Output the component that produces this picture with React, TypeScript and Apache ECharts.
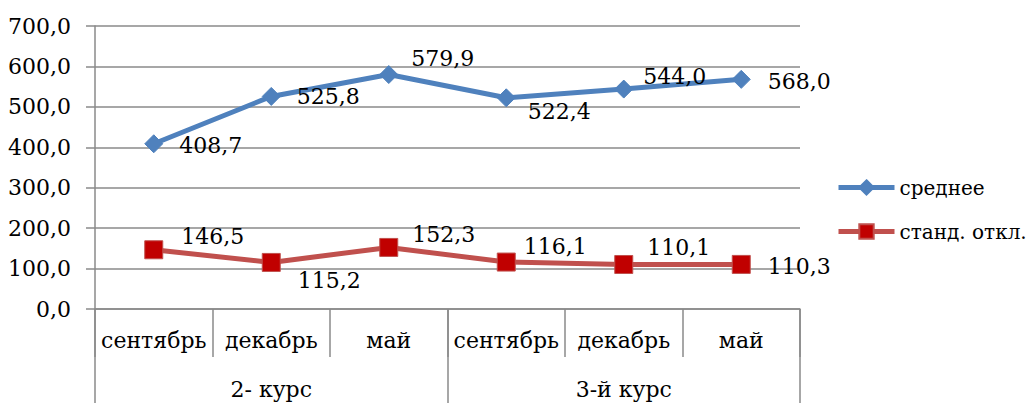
import React, { useEffect, useRef } from "react";
import * as echarts from "echarts";

const months = ["сентябрь", "декабрь", "май", "сентябрь", "декабрь", "май"];
const courses = ["2- курс", "3-й курс"];
const meanValues = [408.7, 525.8, 579.9, 522.4, 544.0, 568.0];
const sdValues = [146.5, 115.2, 152.3, 116.1, 110.1, 110.3];
const seriesNames = ["среднее", "станд. откл."];

// label offsets (layout only)
const meanLabelOffsets = [[16, 2], [16, 0], [13, -16], [12, 14], [10, -13], [17, 2]];
const sdLabelOffsets = [[18, -13], [17, 18], [14, -13], [8, -16], [14, -17], [17, 2]];

const FONT = "DejaVu Serif";
const FS = 22;
const fmt = (v: number) => v.toFixed(1).replace(".", ",");
const GRAY = "#8a8a8a";

export default function App() {
  const ref = useRef<HTMLDivElement>(null);
  useEffect(() => {
    if (!ref.current) return;
    const chart = echarts.init(ref.current, undefined, { renderer: "svg" });
    const mkData = (vals: number[], offs: number[][]) =>
      vals.map((v, i) => ({
        value: v,
        label: { offset: offs[i] },
      }));
    const txt = { fontFamily: FONT, fontSize: FS, color: "#000" };
    chart.setOption({
      animation: false,
      backgroundColor: "#ffffff",
      textStyle: { fontFamily: FONT },
      grid: { left: 95, right: 232, top: 26, bottom: 94, containLabel: false },
      legend: {
        orient: "vertical",
        left: 831,
        top: 170,
        itemWidth: 56,
        itemHeight: 18,
        itemGap: 19,
        data: seriesNames,
        lineStyle: { width: 5 },
        textStyle: { ...txt, fontSize: 20, lineHeight: 25 },
      },
      xAxis: [
        {
          type: "category",
          data: months,
          position: "bottom",
          boundaryGap: true,
          axisLine: { show: true, lineStyle: { color: GRAY, width: 1.5 } },
          axisTick: { show: true, length: 48, lineStyle: { color: GRAY, width: 1.5 } },
          axisLabel: { ...txt, margin: 20, interval: 0 },
        },
        {
          type: "category",
          data: courses,
          position: "bottom",
          boundaryGap: true,
          axisLine: { show: false },
          axisTick: { show: true, length: 94, lineStyle: { color: GRAY, width: 1.5 } },
          axisLabel: { ...txt, margin: 69, interval: 0 },
        },
      ],
      yAxis: {
        type: "value",
        min: 0,
        max: 700,
        interval: 100,
        axisLine: { show: true, lineStyle: { color: GRAY, width: 1.5 } },
        axisTick: { show: true, length: 9, lineStyle: { color: GRAY, width: 1.5 } },
        splitLine: { show: true, lineStyle: { color: GRAY, width: 1.5 } },
        axisLabel: { ...txt, margin: 24, formatter: (v: number) => fmt(v) },
      },
      series: [
        {
          name: seriesNames[0],
          type: "line",
          xAxisIndex: 0,
          data: mkData(meanValues, meanLabelOffsets),
          symbol: "diamond",
          symbolSize: 18,
          lineStyle: { color: "#4F81BD", width: 5 },
          itemStyle: { color: "#4F81BD", borderColor: "#4F81BD", borderWidth: 1 },
          label: {
            show: true,
            position: "right",
            distance: 0,
            ...txt,
            formatter: (p: any) => fmt(p.value),
          },
          z: 3,
        },
        {
          name: seriesNames[1],
          type: "line",
          xAxisIndex: 0,
          data: mkData(sdValues, sdLabelOffsets),
          symbol: "rect",
          symbolSize: 18,
          lineStyle: { color: "#C0504D", width: 5 },
          itemStyle: { color: "#C00000", borderColor: "#C0504D", borderWidth: 1 },
          label: {
            show: true,
            position: "right",
            distance: 0,
            ...txt,
            formatter: (p: any) => fmt(p.value),
          },
          z: 3,
        },
      ],
    });
    return () => chart.dispose();
  }, []);
  return (
    <div
      ref={ref}
      style={{ position: "fixed", left: 0, top: 0, width: 1032, height: 403, background: "#fff" }}
    />
  );
}
